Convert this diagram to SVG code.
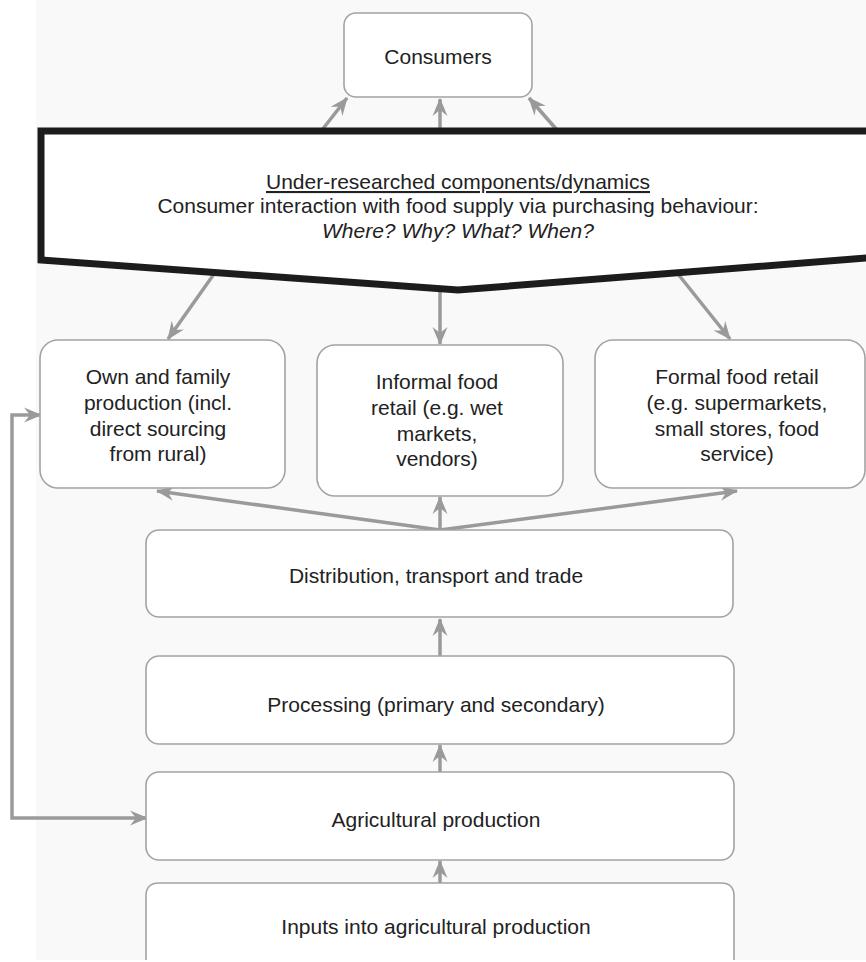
<svg xmlns="http://www.w3.org/2000/svg" width="866" height="962" viewBox="0 0 866 962">
<defs>
<style>
.bx{fill:#ffffff;stroke:#a3a3a3;stroke-width:1.6}
.t{font-family:"Liberation Sans",Arial,sans-serif;font-size:21px;fill:#222;text-anchor:middle}
.c{fill:none;stroke:#9a9a9a;stroke-width:3.5}
</style>
<marker id="ah" viewBox="0 0 18 16" refX="17" refY="8" markerWidth="18" markerHeight="16" orient="auto-start-reverse" markerUnits="userSpaceOnUse">
<path d="M0,0.5 L18,8 L0,15.5 L6,8 z" fill="#9a9a9a"/>
</marker>
</defs>
<rect x="36" y="0" width="830" height="960" fill="#f9f9f9"/>
<g id="connectors">
<line class="c" x1="322" y1="130" x2="347" y2="98" marker-end="url(#ah)"/>
<line class="c" x1="440" y1="130" x2="440" y2="99" marker-end="url(#ah)"/>
<line class="c" x1="557" y1="130" x2="529" y2="98" marker-end="url(#ah)"/>
<line class="c" x1="214" y1="274" x2="168" y2="339" marker-end="url(#ah)"/>
<line class="c" x1="440" y1="286" x2="440" y2="344" marker-end="url(#ah)"/>
<line class="c" x1="678" y1="274" x2="730" y2="339" marker-end="url(#ah)"/>
<line class="c" x1="440" y1="530" x2="157" y2="491" marker-end="url(#ah)"/>
<line class="c" x1="440" y1="530" x2="440" y2="497" marker-end="url(#ah)"/>
<line class="c" x1="440" y1="530" x2="737" y2="491" marker-end="url(#ah)"/>
<line class="c" x1="440" y1="656" x2="440" y2="619" marker-end="url(#ah)"/>
<line class="c" x1="440" y1="772" x2="440" y2="745" marker-end="url(#ah)"/>
<line class="c" x1="440" y1="883" x2="440" y2="861" marker-end="url(#ah)"/>
<path class="c" d="M147,818 H12 V415 H41" marker-start="url(#ah)" marker-end="url(#ah)"/>
</g>
<g id="consumers">
<rect class="bx" x="344" y="13" width="188" height="84" rx="12"/>
<text class="t" x="438" y="64">Consumers</text>
</g>
<g id="callout">
<path d="M41,131 L880,131 L880,257 L458,290 L41,260 Z" fill="#ffffff" stroke="#1c1c1c" stroke-width="7" stroke-linejoin="miter"/>
<text class="t" x="458" y="189" font-size="21.4" text-decoration="underline">Under-researched components/dynamics</text>
<text class="t" x="458" y="213" font-size="21.4">Consumer interaction with food supply via purchasing behaviour:</text>
<text class="t" x="458" y="238" font-size="21.4" font-style="italic">Where? Why? What? When?</text>
</g>
<g id="own">
<rect class="bx" x="40" y="340" width="245" height="148" rx="18"/>
<text class="t" x="158" y="384">Own and family</text>
<text class="t" x="158" y="410">production (incl.</text>
<text class="t" x="158" y="436">direct sourcing</text>
<text class="t" x="158" y="461">from rural)</text>
</g>
<g id="informal">
<rect class="bx" x="317" y="345" width="246" height="151" rx="18"/>
<text class="t" x="437" y="389">Informal food</text>
<text class="t" x="437" y="415">retail (e.g. wet</text>
<text class="t" x="437" y="441">markets,</text>
<text class="t" x="437" y="466">vendors)</text>
</g>
<g id="formal">
<rect class="bx" x="595" y="340" width="270" height="148" rx="18"/>
<text class="t" x="737" y="384">Formal food retail</text>
<text class="t" x="737" y="410">(e.g. supermarkets,</text>
<text class="t" x="737" y="436">small stores, food</text>
<text class="t" x="737" y="461">service)</text>
</g>
<g id="distribution">
<rect class="bx" x="146" y="530" width="587" height="87" rx="13"/>
<text class="t" x="436" y="583">Distribution, transport and trade</text>
</g>
<g id="processing">
<rect class="bx" x="146" y="656" width="588" height="88" rx="13"/>
<text class="t" x="436" y="712">Processing (primary and secondary)</text>
</g>
<g id="agricultural">
<rect class="bx" x="146" y="772" width="588" height="88" rx="13"/>
<text class="t" x="436" y="827">Agricultural production</text>
</g>
<g id="inputs">
<path class="bx" d="M146,960 V896 Q146,883 159,883 H721 Q734,883 734,896 V960"/>
<text class="t" x="436" y="934">Inputs into agricultural production</text>
</g>
</svg>
